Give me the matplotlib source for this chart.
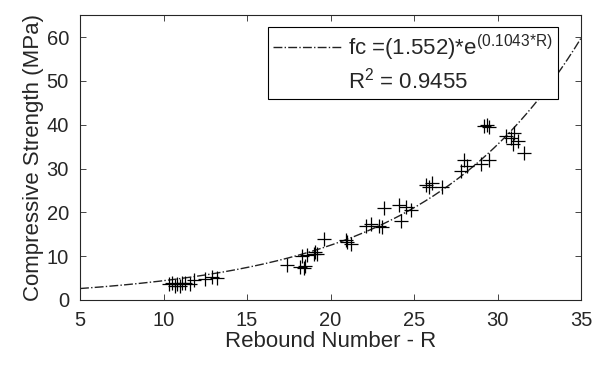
import numpy as np
import matplotlib
matplotlib.use("Agg")
import matplotlib.pyplot as plt
from matplotlib.lines import Line2D

plt.rcParams['font.family'] = ['Liberation Sans', 'DejaVu Sans']
plt.rcParams['mathtext.fontset'] = 'custom'
plt.rcParams['mathtext.rm'] = 'Liberation Sans'
plt.rcParams['mathtext.it'] = 'Liberation Sans'

rebound = [10.3, 10.5, 10.7, 10.8, 11.0, 11.1, 11.3, 11.6, 11.8, 12.5, 12.9, 13.2,
           17.4, 18.2, 18.4, 18.5, 18.3, 18.6, 19.0, 19.1, 19.2, 19.6, 20.9, 21.0, 21.2,
           22.1, 22.4, 22.9, 23.1, 23.2, 24.1, 24.2, 24.5, 24.8,
           25.7, 25.9, 26.1, 26.7, 27.8, 28.0, 28.2, 29.0, 29.5,
           29.2, 29.35, 29.5, 30.5, 30.8, 31.0, 30.9, 31.2, 31.6]
strength = [3.6, 3.9, 3.3, 3.6, 3.2, 3.8, 3.9, 3.7, 4.5, 4.7, 5.3, 5.1,
            7.9, 7.6, 7.2, 7.8, 10.0, 10.3, 10.6, 11.0, 10.4, 13.9, 13.6, 13.2, 12.8,
            16.8, 17.4, 16.9, 16.6, 21.0, 21.6, 18.0, 21.2, 20.6,
            26.3, 25.8, 26.8, 25.8, 29.5, 32.0, 30.5, 31.0, 32.0,
            39.8, 40.0, 39.5, 37.5, 37.0, 38.2, 35.5, 36.2, 33.6]

coef_a = 1.552
coef_b = 0.1043
r_squared = 0.9455

x_ticks = [5, 10, 15, 20, 25, 30, 35]
y_ticks = [0, 10, 20, 30, 40, 50, 60]

grey = '#262626'
fig = plt.figure(figsize=(5.95, 3.69), dpi=100)
ax = fig.add_axes([0.1345, 0.187, 0.842, 0.772])

xf = np.linspace(5, 35, 300)
ax.plot(xf, coef_a * np.exp(coef_b * xf), color='#222222', linestyle='-.', lw=1.0)
ax.plot(rebound, strength, '+', color='black', markersize=10, mew=0.9)

ax.set_xlim(5, 35)
ax.set_ylim(0, 65)
ax.set_xticks(x_ticks)
ax.set_yticks(y_ticks)
ax.tick_params(direction='in', length=4, width=0.6, top=True, right=True,
               labelsize=14.5, colors=grey, pad=8)
for s in ax.spines.values():
    s.set_color(grey)
    s.set_linewidth(0.8)
ax.set_xlabel('Rebound Number - R', fontsize=16, color=grey, labelpad=1)
ax.set_ylabel('Compressive Strength (MPa)', fontsize=16, color=grey, labelpad=2)

h1 = Line2D([], [], color='#222222', linestyle='-.', lw=1.0)
h2 = Line2D([], [], color='none')
leg = ax.legend([h1, h2],
                ['fc =(%.3f)*e$^{(%.4f{*}R)}$' % (coef_a, coef_b),
                 'R$^{2}$ = %.4f' % r_squared],
                loc='upper right', bbox_to_anchor=(0.954, 0.958),
                fontsize=16, handlelength=3.1, handletextpad=0.25,
                borderaxespad=0, fancybox=False, framealpha=1,
                edgecolor='black', borderpad=0.25, labelspacing=0.2)
leg.get_frame().set_linewidth(0.8)
for t in leg.get_texts():
    t.set_color(grey)

fig.savefig('out.png', dpi=100)
